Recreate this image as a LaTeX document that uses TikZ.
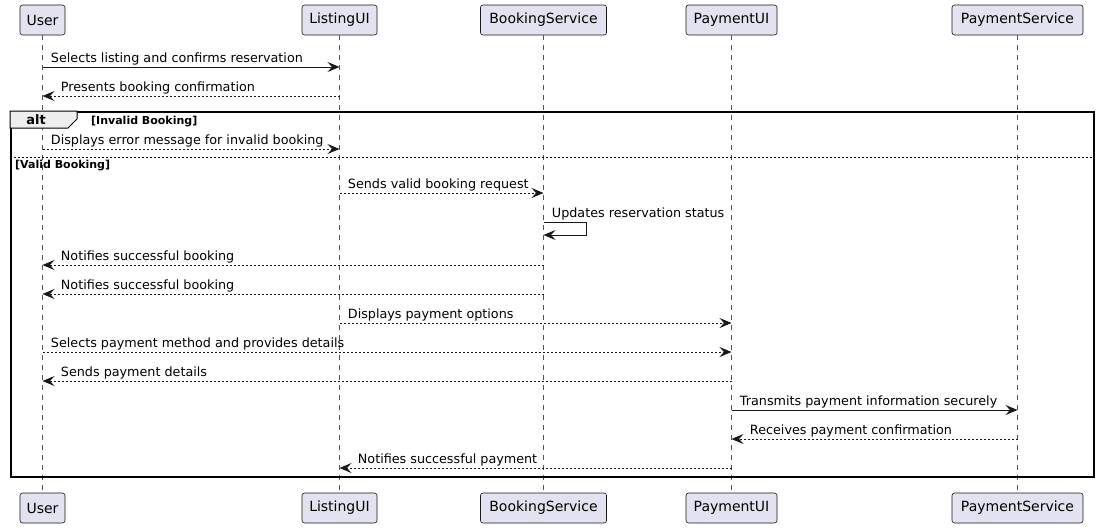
\documentclass[tikz,border=0pt]{standalone}
\usepackage{fontspec}
\setmainfont{DejaVu Sans}
\usetikzlibrary{arrows.meta}
\definecolor{partfill}{HTML}{E2E2F0}
\definecolor{partborder}{HTML}{181818}
\definecolor{lifegray}{HTML}{555555}
\definecolor{tabfill}{HTML}{EEEEEE}
\tikzset{
  part/.style={draw=partborder, fill=partfill, rounded corners=2.5pt, line width=0.6pt,
    minimum height=30pt, inner sep=0pt, font=\fontsize{14}{16}\selectfont},
  lifeline/.style={draw=lifegray, line width=0.6pt, dash pattern=on 5pt off 5pt},
  msg/.style={draw=partborder, line width=0.9pt, -{Stealth[length=12pt,width=10pt,inset=4.5pt]}},
  rmsg/.style={msg, dash pattern=on 2pt off 2pt},
  lbl/.style={font=\fontsize{12.75}{15}\selectfont, inner sep=0pt, text=black},
  lr/.style={lbl, pos=0, anchor=base west, xshift=8pt, yshift=5pt},
  rl/.style={lbl, pos=1, anchor=base west, xshift=18pt, yshift=5pt},
  guard/.style={font=\bfseries\fontsize{11}{13}\selectfont, inner sep=0pt, anchor=base west},
}
\begin{document}
\begin{tikzpicture}[x=1pt,y=-1pt]
\useasboundingbox (0,0) rectangle (1099,528);
% participants
\node[part, minimum width=45pt]  (userT) at (42.5,20) {User};
\node[part, minimum width=75pt]  (listT) at (339.5,20) {ListingUI};
\node[part, minimum width=126pt] (bookT) at (543.5,20) {BookingService};
\node[part, minimum width=91pt]  (payuT) at (731.5,20) {PaymentUI};
\node[part, minimum width=131pt] (paysT) at (1017.5,20) {PaymentService};
\node[part, minimum width=45pt]  (userB) at (42.5,508) {User};
\node[part, minimum width=75pt]  (listB) at (339.5,508) {ListingUI};
\node[part, minimum width=126pt] (bookB) at (543.5,508) {BookingService};
\node[part, minimum width=91pt]  (payuB) at (731.5,508) {PaymentUI};
\node[part, minimum width=131pt] (paysB) at (1017.5,508) {PaymentService};
% lifelines
\draw[lifeline] (userT.south) -- (userB.north);
\draw[lifeline] (listT.south) -- (listB.north);
\draw[lifeline] (bookT.south) -- (bookB.north);
\draw[lifeline] (payuT.south) -- (payuB.north);
\draw[lifeline] (paysT.south) -- (paysB.north);
% messages before alt
\draw[msg]  (userT |- 0,67) -- (listT |- 0,67) node[lr] {Selects listing and confirms reservation};
\draw[rmsg] (listT |- 0,96) -- (userT |- 0,96) node[rl] {Presents booking confirmation};
% alt frame
\node[draw=black, line width=1.5pt, minimum width=1083pt, minimum height=365pt, inner sep=0pt, anchor=north west] (alt) at (10,111) {};
\draw[draw=black, fill=tabfill, line width=1pt] (alt.north west) -- (77,111) -- (77,119) -- (68,128) -- (10,128) -- cycle;
\node[font=\bfseries\fontsize{13}{15}\selectfont, inner sep=0pt] (altlbl) at (36,120) {alt};
\node[guard] (g1) at (91,124) {[Invalid Booking]};
\draw[rmsg] (userT |- 0,149) -- (listT |- 0,149) node[lr] {Displays error message for invalid booking};
\draw[draw=black, line width=0.8pt, dash pattern=on 2pt off 2pt] (alt.west |- 0,157) -- (alt.east |- 0,157);
\node[guard] (g2) at (15,168) {[Valid Booking]};
\draw[rmsg] (listT |- 0,193) -- (bookT |- 0,193) node[lr] {Sends valid booking request};
% self message
\coordinate (selfA) at (586,222);
\coordinate (selfB) at (586,235);
\draw[draw=partborder, line width=0.9pt] (bookT |- 0,222) -- (selfA) node[lbl, pos=0, anchor=base west, xshift=8pt, yshift=5pt] {Updates reservation status};
\draw[msg] (selfA) -- (selfB) -- (bookT |- 0,235);
\draw[rmsg] (bookT |- 0,265) -- (userT |- 0,265) node[rl] {Notifies successful booking};
\draw[rmsg] (bookT |- 0,294) -- (userT |- 0,294) node[rl] {Notifies successful booking};
\draw[rmsg] (listT |- 0,323) -- (payuT |- 0,323) node[lr] {Displays payment options};
\draw[rmsg] (userT |- 0,352) -- (payuT |- 0,352) node[lr] {Selects payment method and provides details};
\draw[rmsg] (payuT |- 0,381) -- (userT |- 0,381) node[rl] {Sends payment details};
\draw[msg]  (payuT |- 0,410) -- (paysT |- 0,410) node[lr] {Transmits payment information securely};
\draw[rmsg] (paysT |- 0,439) -- (payuT |- 0,439) node[rl] {Receives payment confirmation};
\draw[rmsg] (payuT |- 0,468) -- (listT |- 0,468) node[rl] {Notifies successful payment};
\end{tikzpicture}
\end{document}
